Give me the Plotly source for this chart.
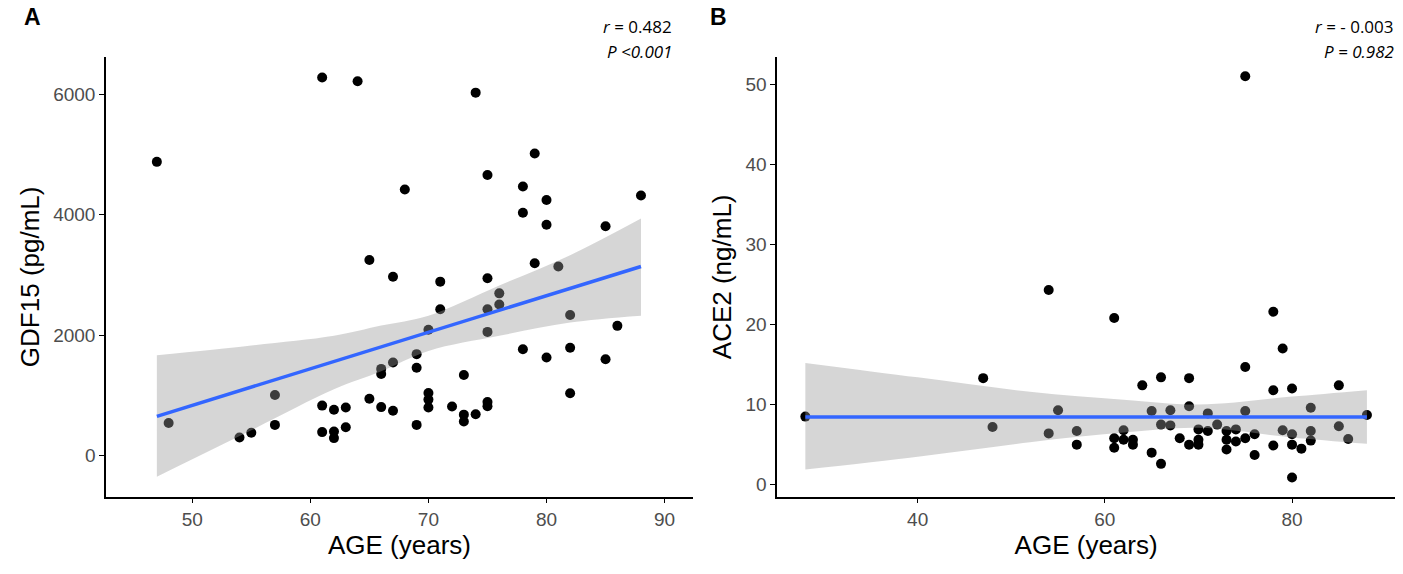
import plotly.graph_objects as go

# ---- data ----
# panel A: GDF15 vs age
age_a = [47, 48, 54, 55, 57, 57, 61, 61, 61, 62, 62, 62, 63, 63, 64, 65, 65,
         66, 66, 66, 67, 67, 67, 68, 69, 69, 69, 70, 70, 70, 70, 71, 71, 72,
         73, 73, 73, 74, 74, 75, 75, 75, 75, 75, 75, 76, 76, 78, 78, 78, 79,
         79, 80, 80, 80, 81, 82, 82, 82, 85, 85, 86, 88]
gdf15 = [4880, 540, 300, 380, 1005, 510, 6280, 830, 390, 760, 400, 290, 800,
         470, 6220, 3250, 945, 1440, 1355, 805, 2970, 1545, 745, 4420, 1685,
         1460, 510, 2090, 1040, 930, 800, 2890, 2430, 815, 1340, 680, 565,
         6030, 685, 4660, 2945, 2430, 2055, 890, 820, 2695, 2510, 4470, 4035,
         1765, 5020, 3195, 4245, 3835, 1630, 3140, 2335, 1790, 1035, 3810,
         1600, 2155, 4320]

# lm line and its 95% band as drawn in the figure
fit_age_a = [47, 88]
fit_a = [652, 3142]
band_age_a = [47, 55, 62, 66, 70, 76, 82, 88]
band_lo_a = [-351, 420, 1100, 1400, 1738, 1989, 2210, 2323]
band_hi_a = [1666, 1830, 1990, 2160, 2323, 2825, 3330, 3939]

# panel B: ACE2 vs age
age_b = [28, 47, 48, 54, 54, 55, 57, 57, 61, 61, 61, 62, 62, 63, 63, 64, 65,
         65, 66, 66, 66, 67, 67, 68, 69, 69, 69, 70, 70, 70, 71, 71, 72, 73,
         73, 73, 74, 74, 75, 75, 75, 75, 76, 76, 78, 78, 78, 79, 79, 80, 80,
         80, 80, 81, 82, 82, 82, 85, 85, 86, 88]
ace2 = [8.5, 13.3, 7.2, 24.3, 6.4, 9.3, 6.7, 5.0, 20.8, 5.8, 4.6, 6.8, 5.6,
        5.6, 5.0, 12.4, 9.2, 4.0, 13.4, 7.5, 2.6, 9.3, 7.4, 5.8, 13.3, 9.8,
        5.0, 6.9, 5.6, 5.0, 8.9, 6.7, 7.5, 6.7, 5.6, 4.4, 6.9, 5.4, 51.0, 14.7,
        9.2, 5.8, 6.3, 3.7, 21.6, 11.8, 4.9, 17.0, 6.8, 12.0, 6.3, 5.0, 0.9,
        4.5, 9.6, 6.7, 5.5, 12.4, 7.3, 5.7, 8.7]

fit_age_b = [28, 88]
fit_b = [8.45, 8.45]
band_age_b = [28, 40, 52, 62, 70, 80, 88]
band_lo_b = [1.9, 3.5, 5.3, 6.5, 7.1, 5.9, 5.1]
band_hi_b = [15.2, 13.4, 11.6, 10.6, 10.0, 11.0, 11.8]

stats_a = ["0.482", "&lt;0.001"]
stats_b = ["- 0.003", "= 0.982"]

fig = go.Figure()


def add_panel(x, y, fx, fy, bx, lo, hi, xa, ya):
    # points first, ribbon on top (this is what greys the points inside it)
    fig.add_trace(go.Scatter(x=x, y=y, mode="markers", xaxis=xa, yaxis=ya,
                             marker=dict(color="black", size=10), showlegend=False))
    fig.add_trace(go.Scatter(x=bx, y=lo, mode="lines", line=dict(width=0, shape="spline"),
                             hoverinfo="skip", xaxis=xa, yaxis=ya, showlegend=False))
    fig.add_trace(go.Scatter(x=bx, y=hi, mode="lines", line=dict(width=0, shape="spline"),
                             fill="tonexty", fillcolor="rgba(153,153,153,0.4)",
                             hoverinfo="skip", xaxis=xa, yaxis=ya, showlegend=False))
    fig.add_trace(go.Scatter(x=fx, y=fy, mode="lines", xaxis=xa, yaxis=ya,
                             line=dict(color="#3366FF", width=3.5), showlegend=False))


add_panel(age_a, gdf15, fit_age_a, fit_a, band_age_a, band_lo_a, band_hi_a, "x", "y")
add_panel(age_b, ace2, fit_age_b, fit_b, band_age_b, band_lo_b, band_hi_b, "x2", "y2")

ax = dict(showline=True, linecolor="black", linewidth=1.6, ticks="outside",
          ticklen=5, tickwidth=1.3, tickcolor="black", showgrid=False,
          zeroline=False, tickfont=dict(size=19, color="#4D4D4D"))
ytitle = dict(size=26, color="black")

fig.update_layout(
    width=1403, height=574,
    margin=dict(l=0, r=0, t=0, b=0),
    plot_bgcolor="white", paper_bgcolor="white",
    font=dict(family="Liberation Sans, Arial, sans-serif"),
    xaxis=dict(ax, domain=[0.0756, 0.4939], range=[42.7, 92.4], tickvals=[50, 60, 70, 80, 90],
               title=dict(text="AGE (years)", font=ytitle, standoff=4), anchor="y"),
    yaxis=dict(ax, domain=[0.1347, 0.9007], range=[-683, 6622], tickvals=[0, 2000, 4000, 6000],
               title=dict(text="GDF15 (pg/mL)", font=ytitle, standoff=6), anchor="x"),
    xaxis2=dict(ax, domain=[0.554, 0.9943], range=[25, 91], tickvals=[40, 60, 80],
                title=dict(text="AGE (years)", font=ytitle, standoff=4), anchor="y2"),
    yaxis2=dict(ax, domain=[0.1347, 0.9007], range=[-1.5, 53.4], tickvals=[0, 10, 20, 30, 40, 50],
                title=dict(text="ACE2 (ng/mL)", font=ytitle, standoff=6), anchor="x2"),
)

note = dict(family="Open Sans, sans-serif", size=17, color="black")
letter = dict(family="Liberation Sans, Arial, sans-serif", size=23, color="black")
fig.add_annotation(text="<b>A</b>", x=0.023, y=0.971, xref="paper", yref="paper",
                   xanchor="center", yanchor="middle", showarrow=False, font=letter)
fig.add_annotation(text="<b>B</b>", x=0.512, y=0.971, xref="paper", yref="paper",
                   xanchor="center", yanchor="middle", showarrow=False, font=letter)
fig.add_annotation(text="<i>r</i> = " + stats_a[0], x=0.4804, y=0.9547, xref="paper", yref="paper",
                   xanchor="right", yanchor="middle", showarrow=False, font=note)
fig.add_annotation(text="<i>P " + stats_a[1] + "</i>", x=0.4804, y=0.911, xref="paper", yref="paper",
                   xanchor="right", yanchor="middle", showarrow=False, font=note)
fig.add_annotation(text="<i>r</i> = " + stats_b[0], x=0.995, y=0.9547, xref="paper", yref="paper",
                   xanchor="right", yanchor="middle", showarrow=False, font=note)
fig.add_annotation(text="<i>P " + stats_b[1] + "</i>", x=0.995, y=0.911, xref="paper", yref="paper",
                   xanchor="right", yanchor="middle", showarrow=False, font=note)

fig.write_html("out.html", config={"displayModeBar": False},
               post_script="document.body.style.margin='0';")
